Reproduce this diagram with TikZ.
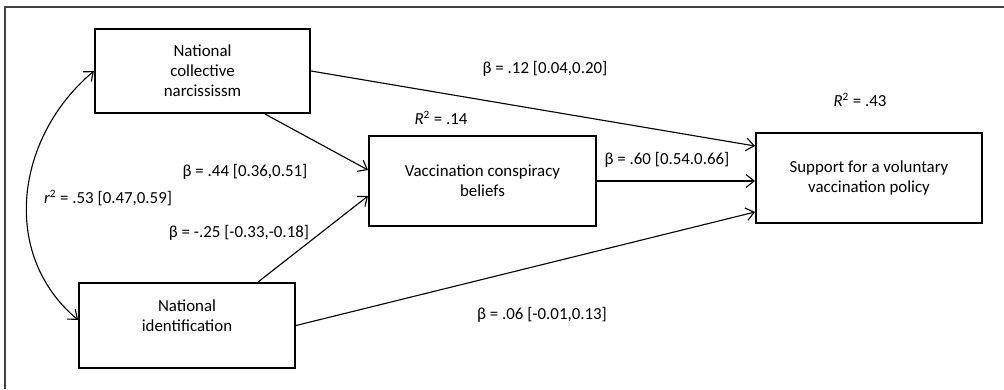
\documentclass[tikz,border=0pt]{standalone}
\usepackage{fontspec}
\setmainfont{Carlito}
\usetikzlibrary{calc,arrows.meta}

\begin{document}
\begin{tikzpicture}[x=0.025cm,y=-0.025cm,>={Straight Barb[length=2mm,width=3.2mm]},
    every node/.style={font=\fontsize{12}{14.2}\selectfont},
    box/.style={draw,line width=1.4pt,align=center,inner sep=0pt},
    coef/.style={inner sep=0pt},
    path/.style={line width=0.8pt}]
	\useasboundingbox (0,0) rectangle (1004,389);
	%\draw[help lines,step=50] (0,0) grid (1004,389);
	%FRAME
	\draw[black!75,line width=0.8pt] (5,389) -- (5,7) -- (1004,7);

	%BOXES
	\node[box,minimum width=5.375cm,minimum height=2.1cm] (ncn) at (202.5,71) {National\\collective\\narcississm};
	\node[box,minimum width=5.4cm,minimum height=2.125cm] (ni) at (187,325.5) {National\\identification\\~};
	\node[box,minimum width=5.675cm,minimum height=2.25cm] (vcb) at (482.5,181) {Vaccination conspiracy\\beliefs};
	\node[box,minimum width=5.65cm,minimum height=2.25cm] (svp) at (869,178) {Support for a voluntary\\vaccination policy};

	%PATHS
	\draw[path,->] (ncn.east) -- ([yshift=0.8cm]svp.west);
	\draw[path,->] ([xshift=1.56cm]ncn.south) -- ([yshift=0.275cm]vcb.west);
	\draw[path,->] ([xshift=1.775cm]ni.north) -- ([yshift=-0.375cm]vcb.west);
	\draw[path,->] (ni.east) -- ([yshift=-0.85cm]svp.west);
	\draw[path,->] (vcb.east) -- (vcb.east -| svp.west);
	\draw[path,<->] (ncn.west) to[out=220,in=140,looseness=1.05] ([yshift=0.14cm]ni.west);

	%COEFFICIENTS
	\node[coef] (b12) at (545,69) {β = .12 [0.04,0.20]};
	\node[coef] (r43) at (860,100) {\textit{R}\textsuperscript{2} = .43};
	\node[coef] (r14) at (441,118) {\textit{R}\textsuperscript{2} = .14};
	\node[coef] (b60) at (667,160) {β = .60 [0.54.0.66]};
	\node[coef] (b44) at (245,172) {β = .44 [0.36,0.51]};
	\node[coef] (r53) at (108,198) {\textit{r}\textsuperscript{2} = .53 [0.47,0.59]};
	\node[coef] (b25) at (239,233) {β = -.25 [-0.33,-0.18]};
	\node[coef] (b06) at (542,315) {β = .06 [-0.01,0.13]};
\end{tikzpicture}
\end{document}
